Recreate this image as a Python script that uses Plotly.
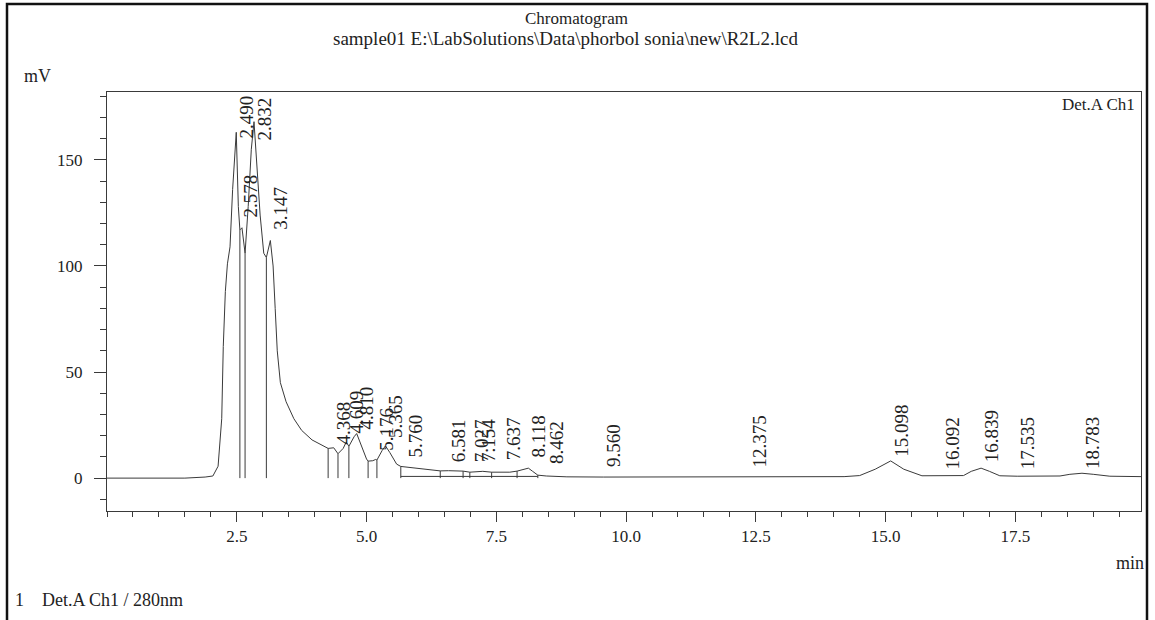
import plotly.graph_objects as go

# ---------------- data ----------------
time_min = [0.0, 1.5, 1.89, 2.04, 2.14, 2.21, 2.24, 2.28, 2.32, 2.37, 2.42, 2.49,
            2.53, 2.56, 2.60, 2.66, 2.72, 2.78, 2.832, 2.88, 2.95, 3.02, 3.07,
            3.147, 3.20, 3.24, 3.28, 3.34, 3.45, 3.6, 3.75, 3.95, 4.1, 4.26,
            4.368, 4.45, 4.55, 4.609, 4.66, 4.76, 4.81, 4.90, 5.0, 5.03, 5.12,
            5.176, 5.20, 5.30, 5.365, 5.45, 5.58, 5.66, 5.76, 6.03, 6.42, 6.581,
            6.86, 6.99, 7.027, 7.154, 7.24, 7.41, 7.637, 7.76, 7.90, 8.0, 8.118,
            8.2, 8.30, 8.462, 8.86, 9.56, 11.0, 12.375, 14.2, 14.5, 14.8, 15.098,
            15.35, 15.7, 16.092, 16.5, 16.65, 16.839, 17.0, 17.2, 17.535, 18.36,
            18.55, 18.783, 19.0, 19.32, 19.92]
signal_mv = [0.0, 0.0, 0.5, 1.0, 5.6, 28, 62, 88, 101, 109, 136, 163,
             128, 117, 118, 106, 128, 155, 168, 150, 124, 106, 104,
             112, 100, 80, 60, 45, 36, 28, 22.5, 18, 16, 14,
             14.3, 11.5, 14, 17, 15, 19.5, 21, 15, 9, 8, 8.2,
             8.8, 8.5, 13, 15.2, 12, 6.6, 5.5, 5.2, 4.7, 3.4, 3.5,
             3.3, 2.8, 2.9, 3.3, 3.2, 2.8, 2.9, 2.8, 3.3, 4.0, 4.7,
             3.2, 1.4, 1.0, 0.6, 0.5, 0.5, 0.6, 0.7, 1.2, 4.2, 8.1,
             4.2, 1.1, 1.0, 1.2, 3.2, 4.7, 3.2, 1.1, 0.9, 1.0,
             1.8, 2.3, 1.8, 0.9, 0.7]

# peak-boundary drop lines (time, height)
drop_times = [2.56, 2.66, 3.07, 4.26, 4.45, 4.66, 5.03, 5.20, 5.66,
              6.42, 6.86, 6.99, 7.41, 7.90, 8.30]
drop_heights = [117, 106, 104, 14, 11.5, 15, 8, 8.5, 5.5,
                3.4, 3.3, 2.8, 2.8, 3.3, 1.4]

# integration baseline segment (start, end, level)
base_times = [5.66, 8.30]
base_levels = [0.8, 0.8]

# peak retention-time labels and the height of the label foot
peak_labels = ["2.490", "2.578", "2.832", "3.147", "4.368", "4.609", "4.810",
               "5.176", "5.365", "5.760", "6.581", "7.027", "7.154", "7.637",
               "8.118", "8.462", "9.560", "12.375", "15.098", "16.092",
               "16.839", "17.535", "18.783"]
peak_times = [2.490, 2.578, 2.832, 3.147, 4.368, 4.609, 4.810,
              5.176, 5.365, 5.760, 6.581, 7.027, 7.154, 7.637,
              8.118, 8.462, 9.560, 12.375, 15.098, 16.092,
              16.839, 17.535, 18.783]
label_base_mv = [159, 122, 158, 116, 15, 20, 22,
                 12, 18, 9, 6.6, 6.6, 6.6, 7.5,
                 9, 5.6, 4.2, 4.2, 9, 3.3,
                 6.6, 3.3, 3.3]

x_tick_vals = [2.5, 5.0, 7.5, 10.0, 12.5, 15.0, 17.5]
x_tick_text = ["2.5", "5.0", "7.5", "10.0", "12.5", "15.0", "17.5"]
y_tick_vals = [0, 50, 100, 150]
y_tick_text = ["0", "50", "100", "150"]

# ---------------- figure ----------------
W, H = 1155, 620
ML, MR, MT, MB = 107, 14, 92, 109
PW, PH = W - ML - MR, H - MT - MB


def px(x):
    return (x - ML) / PW


def py(y):
    return (H - MB - y) / PH


FONT = "Liberation Serif"
INK = "#222222"
LINE = "#3a3a3a"

fig = go.Figure()

fig.add_trace(go.Scatter(x=time_min, y=signal_mv, mode="lines",
                         line=dict(color=LINE, width=1), hoverinfo="x+y"))

dx, dy = [], []
for t, h in zip(drop_times, drop_heights):
    dx += [t, t, None]
    dy += [0, h, None]
fig.add_trace(go.Scatter(x=dx, y=dy, mode="lines",
                         line=dict(color=LINE, width=1), hoverinfo="skip"))

fig.add_trace(go.Scatter(x=base_times, y=base_levels, mode="lines",
                         line=dict(color=LINE, width=1), hoverinfo="skip"))

annotations = []
for lab, t, yb in zip(peak_labels, peak_times, label_base_mv):
    annotations.append(dict(x=t, y=yb, xref="x", yref="y", text=lab,
                            textangle=-90, showarrow=False, xanchor="center",
                            yanchor="bottom", xshift=10,
                            font=dict(family=FONT, size=19, color=INK)))

annotations += [
    dict(x=px(576), y=py(18), xref="paper", yref="paper", text="Chromatogram",
         showarrow=False, xanchor="center", yanchor="middle",
         font=dict(family=FONT, size=17, color=INK)),
    dict(x=px(565), y=py(39), xref="paper", yref="paper",
         text=r"sample01 E:\LabSolutions\Data\phorbol sonia\new\R2L2.lcd",
         showarrow=False, xanchor="center", yanchor="middle",
         font=dict(family=FONT, size=19, color=INK)),
    dict(x=px(22), y=py(76), xref="paper", yref="paper", text="mV",
         showarrow=False, xanchor="left", yanchor="middle",
         font=dict(family=FONT, size=18, color=INK)),
    dict(x=px(1137), y=py(104), xref="paper", yref="paper", text="Det.A Ch1",
         showarrow=False, xanchor="right", yanchor="middle",
         font=dict(family=FONT, size=17, color=INK)),
    dict(x=px(1146), y=py(563), xref="paper", yref="paper", text="min",
         showarrow=False, xanchor="right", yanchor="middle",
         font=dict(family=FONT, size=18, color=INK)),
    dict(x=px(13), y=py(600), xref="paper", yref="paper",
         text="1&nbsp;&nbsp;&nbsp;&nbsp;Det.A Ch1 / 280nm",
         showarrow=False, xanchor="left", yanchor="middle",
         font=dict(family=FONT, size=18, color=INK)),
]

shapes = [dict(type="rect", xref="paper", yref="paper",
               x0=px(7), x1=px(1147), y0=py(640), y1=py(4),
               line=dict(color="#111111", width=2.5), fillcolor="rgba(0,0,0,0)",
               layer="above")]

fig.update_layout(
    width=W, height=H, autosize=False,
    margin=dict(l=ML, r=MR, t=MT, b=MB, pad=0),
    paper_bgcolor="white", plot_bgcolor="white",
    showlegend=False,
    annotations=annotations, shapes=shapes,
    xaxis=dict(range=[0, 19.92], showgrid=False, zeroline=False,
               showline=True, linecolor=LINE, linewidth=1, mirror=True,
               ticks="outside", ticklen=10, tickcolor=LINE,
               tickvals=x_tick_vals, ticktext=x_tick_text,
               tickfont=dict(family=FONT, size=17, color=INK),
               minor=dict(ticks="outside", ticklen=5, tick0=0, dtick=0.5,
                          tickcolor=LINE, showgrid=False)),
    yaxis=dict(range=[-15.5, 182], showgrid=False, zeroline=False,
               showline=True, linecolor=LINE, linewidth=1, mirror=True,
               ticks="outside", ticklen=12, tickcolor=LINE,
               tickvals=y_tick_vals, ticktext=y_tick_text,
               ticklabelstandoff=8,
               tickfont=dict(family=FONT, size=17, color=INK),
               minor=dict(ticks="outside", ticklen=6, tick0=0, dtick=10,
                          tickcolor=LINE, showgrid=False)),
)

fig.write_html("out.html")
